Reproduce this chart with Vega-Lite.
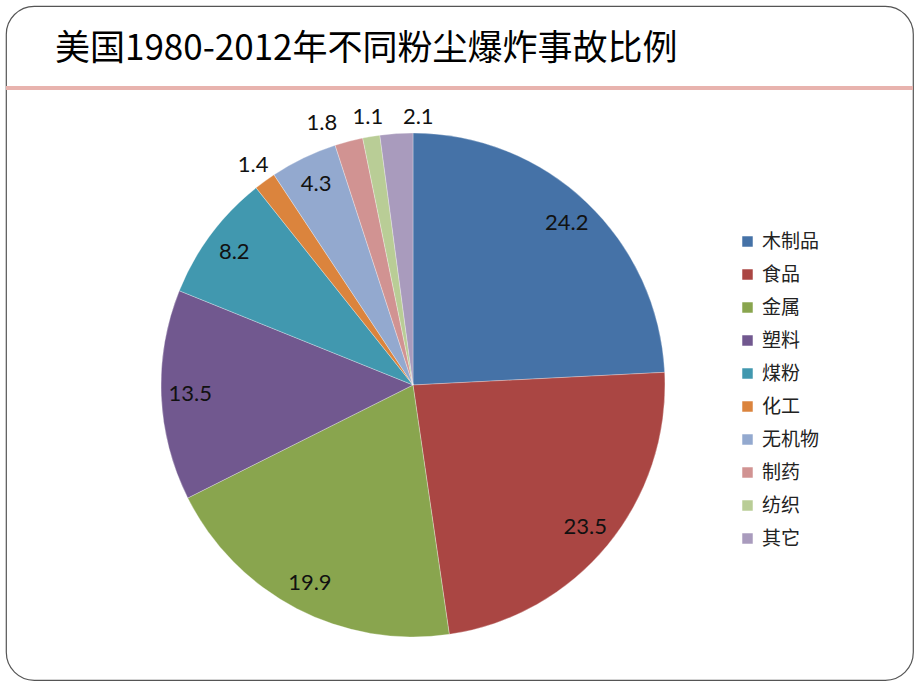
{
  "$schema": "https://vega.github.io/schema/vega-lite/v6.json",
  "width": 907,
  "height": 674,
  "autosize": "none",
  "padding": {"left": 6, "top": 6, "right": 7, "bottom": 10},
  "background": "#ffffff",
  "view": {"stroke": "#555555", "strokeWidth": 1.2, "cornerRadius": 28},
  "config": {
    "font": "Noto Sans CJK SC"
  },
  "data": {
    "values": [
      {"category": "木制品", "value": 24.2, "rank": 1},
      {"category": "食品", "value": 23.5, "rank": 2},
      {"category": "金属", "value": 19.9, "rank": 3},
      {"category": "塑料", "value": 13.5, "rank": 4},
      {"category": "煤粉", "value": 8.2, "rank": 5},
      {"category": "化工", "value": 1.4, "rank": 6},
      {"category": "无机物", "value": 4.3, "rank": 7},
      {"category": "制药", "value": 1.8, "rank": 8},
      {"category": "纺织", "value": 1.1, "rank": 9},
      {"category": "其它", "value": 2.1, "rank": 10}
    ]
  },
  "layer": [
    {
      "mark": {"type": "text", "align": "left", "baseline": "middle", "font": "Noto Sans CJK SC", "fontSize": 35, "fontWeight": "normal", "color": "#000000"},
      "data": {"values": [{"t": "美国1980-2012年不同粉尘爆炸事故比例"}]},
      "encoding": {
        "text": {"field": "t", "type": "nominal"},
        "x": {"value": 49},
        "y": {"value": 43}
      }
    },
    {
      "mark": {"type": "rule", "stroke": "#E8B3AE", "strokeWidth": 4},
      "data": {"values": [{"k": 1}]},
      "encoding": {
        "x": {"value": 0},
        "x2": {"value": 907},
        "y": {"value": 82},
        "y2": {"value": 82}
      }
    },
    {
      "mark": {"type": "arc", "x": 407, "y": 379, "outerRadius": 252, "stroke": "#ffffff", "strokeWidth": 0.3},
      "encoding": {
        "theta": {"field": "value", "type": "quantitative", "stack": true},
        "order": {"field": "rank", "type": "quantitative"},
        "color": {
          "field": "category",
          "type": "nominal",
          "sort": null,
          "scale": {
            "domain": ["木制品", "食品", "金属", "塑料", "煤粉", "化工", "无机物", "制药", "纺织", "其它"],
            "range": ["#4572A7", "#AA4643", "#89A54E", "#71588F", "#4198AF", "#DB843D", "#93A9CF", "#D19392", "#B9CD96", "#A99BBD"]
          },
          "legend": {
            "title": null,
            "orient": "none",
            "legendX": 732,
            "legendY": 226,
            "padding": 0,
            "symbolType": "square",
            "symbolSize": 110,
            "symbolStrokeWidth": 0,
            "labelFont": "Noto Sans CJK SC",
            "labelFontSize": 19,
            "labelColor": "#222222",
            "labelOffset": 5,
            "rowPadding": 13,
            "labelLimit": 200
          }
        }
      }
    },
    {
      "mark": {"type": "text", "x": 407, "y": 379, "radius": 223, "font": "Lato", "fontSize": 22, "color": "#111111"},
      "encoding": {
        "theta": {"field": "value", "type": "quantitative", "stack": true},
        "order": {"field": "rank", "type": "quantitative"},
        "text": {"condition": {"test": "datum.value >= 4", "field": "value", "type": "quantitative", "format": ".1f"}, "value": ""}
      }
    },
    {
      "mark": {"type": "text", "x": 407, "y": 379, "radius": 272, "font": "Lato", "fontSize": 22, "color": "#111111"},
      "encoding": {
        "theta": {"field": "value", "type": "quantitative", "stack": true},
        "order": {"field": "rank", "type": "quantitative"},
        "text": {"condition": {"test": "datum.category === '化工' || datum.category === '纺织'", "field": "value", "type": "quantitative", "format": ".1f"}, "value": ""}
      }
    },
    {
      "mark": {"type": "text", "x": 407, "y": 379, "radius": 271, "dx": -22, "font": "Lato", "fontSize": 22, "color": "#111111"},
      "encoding": {
        "theta": {"field": "value", "type": "quantitative", "stack": true},
        "order": {"field": "rank", "type": "quantitative"},
        "text": {"condition": {"test": "datum.category === '制药'", "field": "value", "type": "quantitative", "format": ".1f"}, "value": ""}
      }
    },
    {
      "mark": {"type": "text", "x": 407, "y": 379, "radius": 269, "dx": 23, "font": "Lato", "fontSize": 22, "color": "#111111"},
      "encoding": {
        "theta": {"field": "value", "type": "quantitative", "stack": true},
        "order": {"field": "rank", "type": "quantitative"},
        "text": {"condition": {"test": "datum.category === '其它'", "field": "value", "type": "quantitative", "format": ".1f"}, "value": ""}
      }
    }
  ]
}
